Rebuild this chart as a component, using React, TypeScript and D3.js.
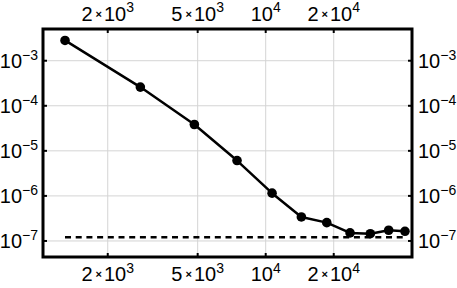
import React from 'react';
import * as d3 from 'd3';

const xValues = [1294, 2788, 4834, 7467, 10670, 14380, 18630, 23620, 29040, 35010, 41330];
const yValues = [2.82e-3, 2.6e-4, 3.84e-5, 6.09e-6, 1.15e-6, 3.41e-7, 2.55e-7, 1.51e-7, 1.45e-7, 1.73e-7, 1.64e-7];
const referenceLevel = 1.21e-7;
const xTicks = [2000, 5000, 10000, 20000];
const yTicks = [1e-3, 1e-4, 1e-5, 1e-6, 1e-7];
const xDomain = [1034, 44400];
const yDomain = [Math.pow(10, -7.356), Math.pow(10, -2.296)];

const W = 457;
const H = 288;
const M = { left: 43, right: 412, top: 29, bottom: 257 };
const FONT = 'Liberation Sans, Arial, sans-serif';
const FS = 20;
const SUP = 14;

function splitTick(v: number) {
  const e = Math.floor(Math.log10(v) + 1e-9);
  const m = Math.round(v / Math.pow(10, e));
  return { m, e };
}

function XLabel({ v, x, y }: { v: number; x: number; y: number }) {
  const { m, e } = splitTick(v);
  return (
    <text x={x} y={y} textAnchor="middle" fontFamily={FONT} fontSize={FS} fill="#000">
      {m !== 1 && <tspan>{m}</tspan>}
      {m !== 1 && <tspan fontSize={11} fontWeight="bold" dx={3} dy={-3}>×</tspan>}
      <tspan dx={m !== 1 ? 2 : 0} dy={m !== 1 ? 3 : 0}>10</tspan>
      <tspan fontSize={SUP} dy={-8.5}>{String(e)}</tspan>
    </text>
  );
}

function YLabel({ v, x, y, anchor }: { v: number; x: number; y: number; anchor: 'start' | 'end' }) {
  const { e } = splitTick(v);
  return (
    <text x={x} y={y} textAnchor={anchor} fontFamily={FONT} fontSize={FS} fill="#000">
      <tspan>10</tspan>
      <tspan fontSize={SUP} dy={-8.7}>{'\u2212' + String(Math.abs(e))}</tspan>
    </text>
  );
}

export default function App() {
  const x = d3.scaleLog().domain(xDomain).range([M.left, M.right]);
  const y = d3.scaleLog().domain(yDomain).range([M.bottom, M.top]);
  const pts = xValues.map((v, i) => [v, yValues[i]] as [number, number]);
  const line = d3.line<[number, number]>().x((d) => x(d[0])).y((d) => y(d[1]));
  const refLine = d3.line<number>().x((d) => x(d)).y(() => y(referenceLevel));
  const xr = [xValues[0], xValues[xValues.length - 1]];

  return (
    <svg width={W} height={H} style={{ position: 'absolute', left: 0, top: 0, display: 'block', background: '#fff' }}>
      <rect x={0} y={0} width={W} height={H} fill="#fff" />
      {xTicks.map((t) => (
        <line key={'gx' + t} x1={x(t)} x2={x(t)} y1={M.top} y2={M.bottom} stroke="#d4d4d4" strokeWidth={1} />
      ))}
      {yTicks.map((t) => (
        <line key={'gy' + t} x1={M.left} x2={M.right} y1={y(t)} y2={y(t)} stroke="#d4d4d4" strokeWidth={1} />
      ))}
      <path d={refLine(xr) || ''} fill="none" stroke="#000" strokeWidth={2.5} strokeDasharray="6,4.7" />
      <path d={line(pts) || ''} fill="none" stroke="#000" strokeWidth={2.5} strokeLinejoin="round" />
      {pts.map((d, i) => (
        <circle key={i} cx={x(d[0])} cy={y(d[1])} r={4.8} fill="#000" />
      ))}
      <rect x={M.left} y={M.top} width={M.right - M.left} height={M.bottom - M.top} fill="none" stroke="#000" strokeWidth={3} />
      {xTicks.map((t) => (
        <g key={'tx' + t}>
          <line x1={x(t)} x2={x(t)} y1={M.top} y2={M.top + 4} stroke="#000" strokeWidth={2} />
          <line x1={x(t)} x2={x(t)} y1={M.bottom} y2={M.bottom - 4} stroke="#000" strokeWidth={2} />
          <XLabel v={t} x={x(t)} y={20.5} />
          <XLabel v={t} x={x(t)} y={281} />
        </g>
      ))}
      {yTicks.map((t) => (
        <g key={'ty' + t}>
          <line x1={M.left} x2={M.left + 4} y1={y(t)} y2={y(t)} stroke="#000" strokeWidth={2} />
          <line x1={M.right} x2={M.right - 4} y1={y(t)} y2={y(t)} stroke="#000" strokeWidth={2} />
          <YLabel v={t} x={38} y={y(t) + 7.5} anchor="end" />
          <YLabel v={t} x={418} y={y(t) + 7.5} anchor="start" />
        </g>
      ))}
    </svg>
  );
}
